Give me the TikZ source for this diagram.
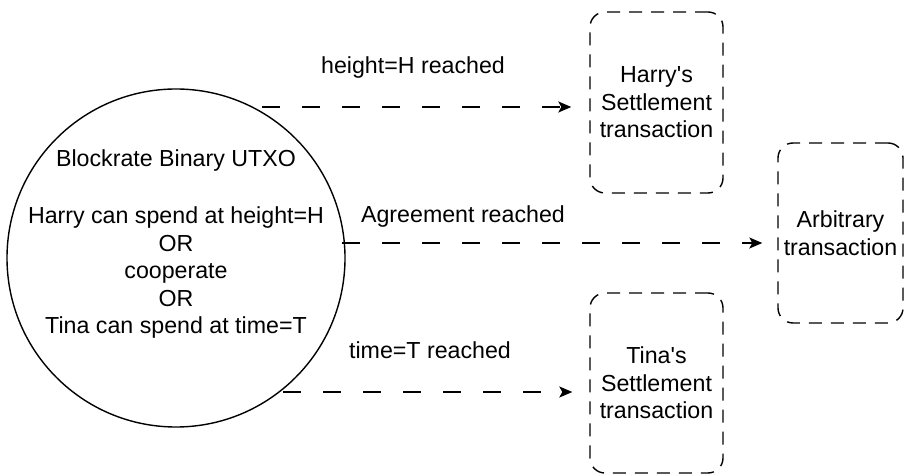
\documentclass[tikz,border=0pt]{standalone}
\usepackage{fontspec}
\setmainfont{Liberation Sans}
\usetikzlibrary{arrows.meta}

\begin{document}
\begin{tikzpicture}[
    x=0.5pt, y=-0.5pt,
    % Styles for the transaction boxes, the labels and the arrows
    txbox/.style={draw=black, line width=0.7pt, rounded corners=7.5pt,
        dash pattern=on 6.5pt off 4.5pt, inner sep=0pt, align=center,
        font=\fontsize{11.6}{13.75}\selectfont},
    edgelabel/.style={inner sep=0pt, font=\fontsize{11.6}{13.75}\selectfont},
    spendarrow/.style={line width=0.7pt, dash pattern=on 9pt off 11pt,
        -{Stealth[length=6.5pt, width=5.5pt, inset=1.5pt]}}
]

    % Frame
    \useasboundingbox (0,0) rectangle (904,475);

    % UTXO

    %% Circle and its text
    \node (utxo) [draw=black, line width=0.7pt, circle, minimum size=169pt, inner sep=0pt] at (176,258) {};
    \node (utxotext) [edgelabel, align=center] at (176,244)
        {Blockrate Binary UTXO\\[15pt]
         Harry can spend at height=H\\ OR\\ cooperate\\ OR\\ Tina can spend at time=T};

    % Transactions

    \node (harry) [txbox, minimum width=66.5pt, minimum height=90.5pt] at (656.5,102.5)
        {Harry\textquotesingle s\\ Settlement\\ transaction};
    \node (arbitrary) [txbox, minimum width=62.5pt, minimum height=90pt] at (840.5,233)
        {Arbitrary\\ transaction};
    \node (tina) [txbox, minimum width=66.5pt, minimum height=90pt] at (656.5,383)
        {Tina\textquotesingle s\\ Settlement\\ transaction};

    % Arrows

    %% Start points on the circle
    \coordinate (Hstart) at (262,107);
    \coordinate (Astart) at (342,243);
    \coordinate (Tstart) at (283,392);

    %% Connect UTXO with the transactions
    \draw [spendarrow, shorten >=9pt] (Hstart) -- (Hstart -| harry.west);
    \draw [spendarrow, shorten >=7.5pt] (Astart) -- (Astart -| arbitrary.west);
    \draw [spendarrow, shorten >=8.5pt] (Tstart) -- (Tstart -| tina.west);

    %% Arrow labels
    \node (Hlabel) [edgelabel] at (413,68) {height=H reached};
    \node (Alabel) [edgelabel] at (463,217) {Agreement reached};
    \node (Tlabel) [edgelabel] at (430,350) {time=T reached};

\end{tikzpicture}
\end{document}
